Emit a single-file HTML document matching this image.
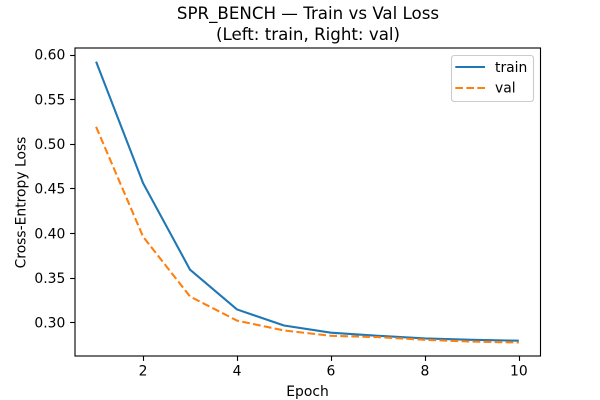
<!DOCTYPE html>
<html>
<head>
<meta charset="utf-8">
<style>
html,body{margin:0;padding:0;background:#fff;}
svg{display:block;}
text{font-family:"DejaVu Sans","Liberation Sans",sans-serif;fill:#000;}
</style>
</head>
<body>
<svg id="chart" width="600" height="400" viewBox="0 0 600 400" xmlns="http://www.w3.org/2000/svg">
<rect x="0" y="0" width="600" height="400" fill="#ffffff"/>
<text x="308" y="19" font-size="16.67" text-anchor="middle">SPR_BENCH — Train vs Val Loss</text>
<text x="308" y="40" font-size="16.67" text-anchor="middle">(Left: train, Right: val)</text>
<text x="307.5" y="396" font-size="13.89" text-anchor="middle">Epoch</text>
<text x="0" y="0" font-size="13.89" text-anchor="middle" transform="translate(25.5,202.5) rotate(-90)">Cross-Entropy Loss</text>
<g id="ticks"></g>
<g id="series"></g>
<rect x="75" y="48" width="465.5" height="308" fill="none" stroke="#000" stroke-width="1.11"/>
<g>
<rect x="451.5" y="55.5" width="82" height="46" rx="2.8" fill="#fff" fill-opacity="0.8" stroke="#cccccc" stroke-width="1.11"/>
<line x1="455.3" y1="67" x2="485" y2="67" stroke="#1f77b4" stroke-width="2.08"/>
<text x="495" y="72" font-size="13.89">train</text>
<line x1="455.3" y1="88" x2="485" y2="88" stroke="#ff7f0e" stroke-width="2.08" stroke-dasharray="7.7 3.33"/>
<text x="495" y="92.5" font-size="13.89">val</text>
</g>
</svg>
<script>
const epochs = [1, 2, 3, 4, 5, 6, 7, 8, 9, 10];
const trainLoss = [0.592, 0.456, 0.359, 0.3145, 0.2965, 0.2885, 0.285, 0.282, 0.2805, 0.2795];
const valLoss = [0.519, 0.396, 0.329, 0.302, 0.291, 0.285, 0.2835, 0.2805, 0.2785, 0.2775];
const xTicks = [2, 4, 6, 8, 10];
const yTicks = [0.30, 0.35, 0.40, 0.45, 0.50, 0.55, 0.60];

const NS = 'http://www.w3.org/2000/svg';
function xScale(v) { return 96.1 + (v - 1) * 46.97; }
function yScale(v) { return 322.4 - (v - 0.3) * 893; }
function make(tag, attrs, parent) {
  const el = document.createElementNS(NS, tag);
  for (const k in attrs) el.setAttribute(k, attrs[k]);
  parent.appendChild(el);
  return el;
}
const tickLayer = document.getElementById('ticks');
const seriesLayer = document.getElementById('series');

xTicks.forEach(function (t) {
  const x = Math.round(xScale(t)) + 0.5;
  const mark = make('line', { x1: x, x2: x, y1: 356, y2: 360.9, stroke: '#000', 'stroke-width': 1.11 }, tickLayer);
  
  
  const label = make('text', { x: xScale(t), y: 375.5, 'font-size': 13.89, 'text-anchor': 'middle' }, tickLayer);
  
  
  label.textContent = String(t);
});

yTicks.forEach(function (t) {
  const y = Math.round(yScale(t)) + 0.5;
  const mark = make('line', { x1: 70.1, x2: 75, y1: y, y2: y, stroke: '#000', 'stroke-width': 1.11 }, tickLayer);
  
  
  const label = make('text', { x: 65.3, y: yScale(t) + 5.2, 'font-size': 13.89, 'text-anchor': 'end' }, tickLayer);
  
  
  label.textContent = t.toFixed(2);
});

function points(values) {
  return values.map(function (v, i) { return xScale(epochs[i]).toFixed(2) + ',' + yScale(v).toFixed(2); }).join(' ');
}
const trainLine = make('polyline', { points: points(trainLoss), fill: 'none', stroke: '#1f77b4', 'stroke-width': 2.08, 'stroke-linejoin': 'round', 'stroke-linecap': 'butt' }, seriesLayer);


const valLine = make('polyline', { points: points(valLoss), fill: 'none', stroke: '#ff7f0e', 'stroke-width': 2.08, 'stroke-dasharray': '7.7 3.33', 'stroke-linejoin': 'round', 'stroke-linecap': 'butt' }, seriesLayer);


</script>
</body>
</html>
